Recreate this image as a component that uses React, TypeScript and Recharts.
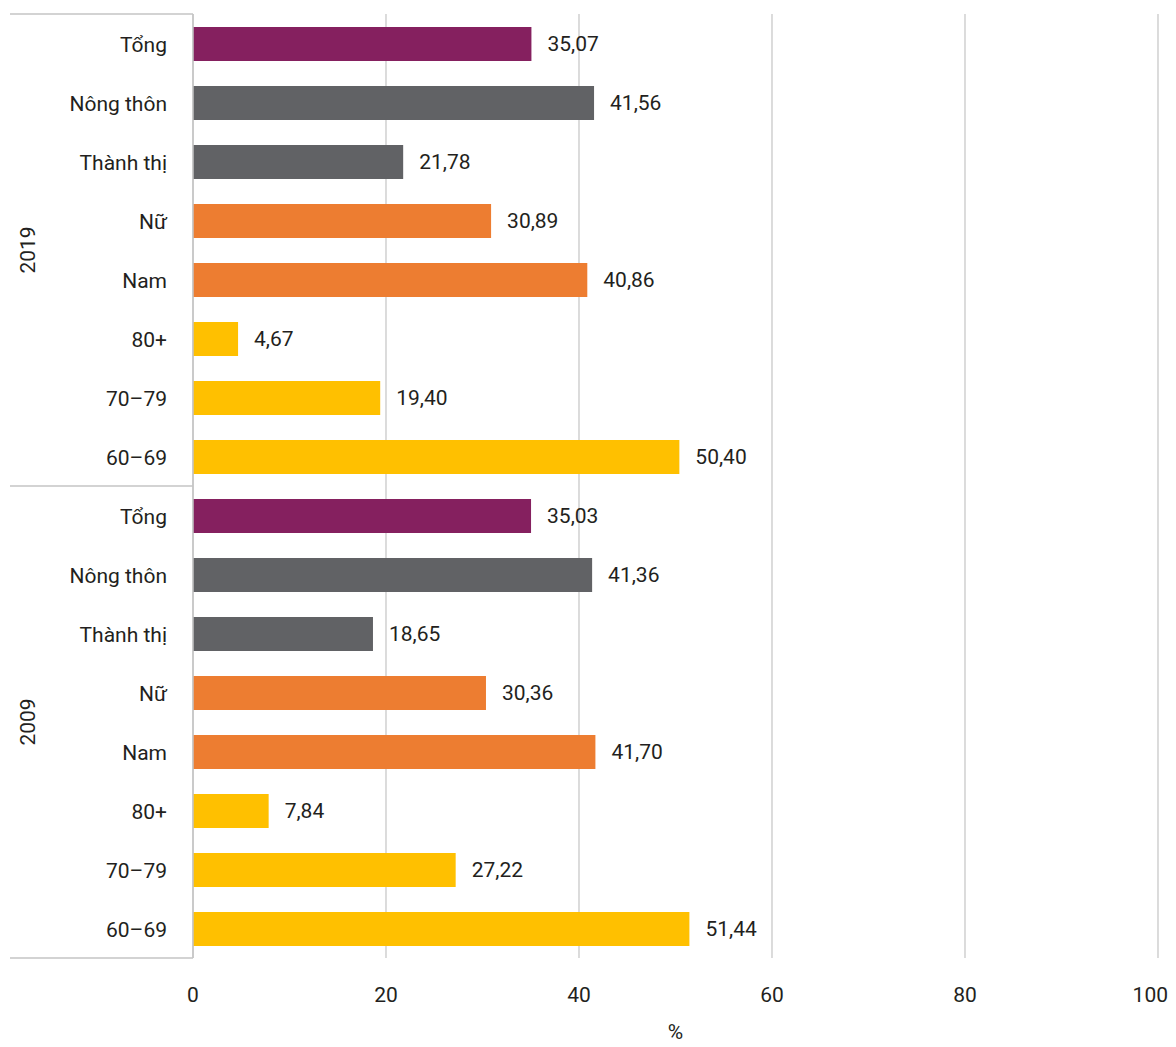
import React from 'react';
import { BarChart, Bar, XAxis, YAxis, CartesianGrid, LabelList, Cell } from 'recharts';

const years = ['2019', '2009'];
const categories = ['Tổng', 'Nông thôn', 'Thành thị', 'Nữ', 'Nam', '80+', '70–79', '60–69'];
const values2019 = [35.07, 41.56, 21.78, 30.89, 40.86, 4.67, 19.4, 50.4];
const values2009 = [35.03, 41.36, 18.65, 30.36, 41.7, 7.84, 27.22, 51.44];
const categoryColors = ['#85205f', '#616265', '#616265', '#ed7d31', '#ed7d31', '#ffc000', '#ffc000', '#ffc000'];
const xTicks = [0, 20, 40, 60, 80, 100];

const FONT = 'Roboto, sans-serif';
const TEXT = '#231f20';
const LINE = '#c4c4c4';

const data = [values2019, values2009].flatMap((vals, g) =>
  categories.map((cat, i) => ({
    key: `${years[g]}-${i}`,
    label: cat,
    year: years[g],
    value: vals[i],
    color: categoryColors[i],
  }))
);

const perGroup = categories.length;

function formatValue(v: number | string) {
  return Number(v).toFixed(2).replace('.', ',');
}

function CategoryTick(props: any) {
  const { x, y, payload, index } = props;
  const half = payload?.offset ?? 29.5;
  const row = data[index];
  const axisX = x + 26;
  const left = axisX - 183;
  const pos = index % perGroup;
  return (
    <g>
      <text
        x={x}
        y={y + 1}
        textAnchor="end"
        dominantBaseline="central"
        fontFamily={FONT}
        fontSize={21}
        fill={TEXT}
      >
        {row?.label}
      </text>
      {pos === 0 && <line x1={left} x2={axisX} y1={y - half} y2={y - half} stroke={LINE} strokeWidth={1.5} />}
      {index === data.length - 1 && (
        <line x1={left} x2={axisX} y1={y + half} y2={y + half} stroke={LINE} strokeWidth={1.5} />
      )}
      {pos === perGroup / 2 - 1 && (
        <text
          x={axisX - 165}
          y={y + half}
          transform={`rotate(-90 ${axisX - 165} ${y + half})`}
          textAnchor="middle"
          dominantBaseline="central"
          fontFamily={FONT}
          fontSize={21}
          fill={TEXT}
        >
          {row?.year}
        </text>
      )}
    </g>
  );
}

export default function App() {
  return (
    <div style={{ width: 1160, height: 1039, background: '#fff' }}>
      <BarChart
        width={1160}
        height={1039}
        data={data}
        layout="vertical"
        margin={{ top: 6, right: 10, left: 0, bottom: 0 }}
      >
        <CartesianGrid horizontal={false} stroke={LINE} strokeWidth={1.2} />
        <XAxis
          type="number"
          domain={[0, 100]}
          ticks={xTicks}
          axisLine={false}
          tickLine={false}
          tickSize={0}
          tickMargin={29}
          height={89}
          tick={{ fontFamily: FONT, fontSize: 21, fill: TEXT }}
          label={{ value: '%', position: 'insideBottom', offset: 8, fontFamily: FONT, fontSize: 21, fill: TEXT }}
        />
        <YAxis
          type="category"
          dataKey="key"
          width={185}
          axisLine={{ stroke: LINE, strokeWidth: 1.5 }}
          tickLine={false}
          tickSize={0}
          tickMargin={26}
          interval={0}
          tick={<CategoryTick />}
        />
        <Bar dataKey="value" barSize={34} isAnimationActive={false}>
          {data.map((d) => (
            <Cell key={d.key} fill={d.color} />
          ))}
          <LabelList
            dataKey="value"
            position="right"
            offset={16}
            formatter={formatValue}
            style={{ fontFamily: FONT, fontSize: 21, fill: TEXT }}
          />
        </Bar>
      </BarChart>
    </div>
  );
}
